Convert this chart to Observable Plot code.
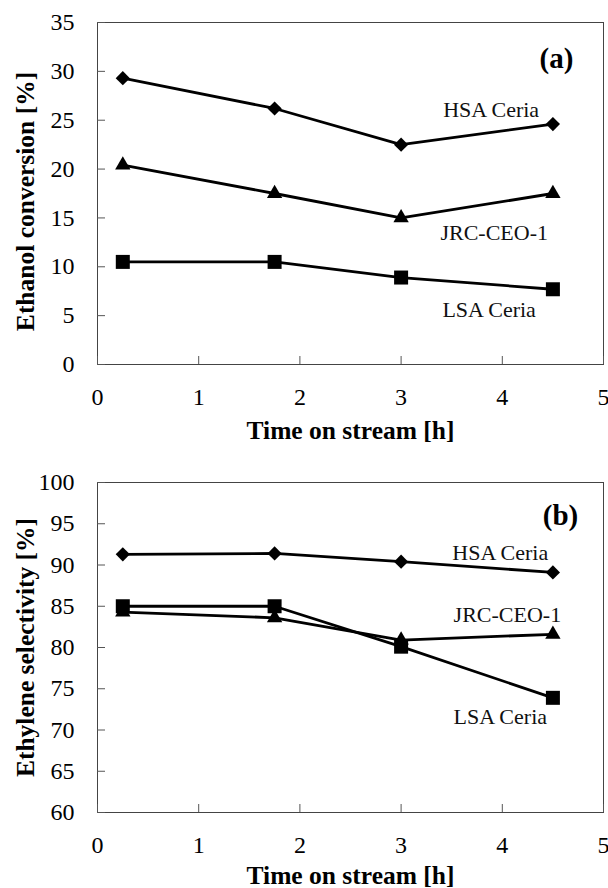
<!DOCTYPE html>
<html><head><meta charset="utf-8">
<script src="https://cdn.jsdelivr.net/npm/d3@7"></script>
<script src="https://cdn.jsdelivr.net/npm/@observablehq/plot@0.6"></script>
<style>
body{margin:0;background:#fff;}
#chart{width:608px;}
#chart svg{display:block;overflow:visible;font-family:"Liberation Serif",serif !important;}
#chart svg text{font-family:"Liberation Serif",serif !important;}
</style></head><body><div id="chart"></div>
<script>
// ---- data ----
const time = [0.25, 1.75, 3, 4.5];
const seriesNames = ["HSA Ceria", "JRC-CEO-1", "LSA Ceria"];
const seriesSymbols = ["diamond2", "triangle", "square"];

// panel (a): ethanol conversion [%]
const convHSA = [29.3, 26.2, 22.5, 24.6];
const convJRC = [20.4, 17.5, 15.0, 17.5];
const convLSA = [10.5, 10.5, 8.9, 7.7];
const convLabelX = [3.89, 3.92, 3.87];
const convLabelY = [26.1, 13.5, 5.6];

// panel (b): ethylene selectivity [%]
const selHSA = [91.3, 91.4, 90.4, 89.1];
const selJRC = [84.3, 83.6, 80.9, 81.6];
const selLSA = [85.0, 85.0, 80.1, 73.9];
const selLabelX = [3.98, 4.05, 3.98];
const selLabelY = [91.4, 84.0, 71.6];

const xTicks = [0, 1, 2, 3, 4, 5];
const yTicksA = [0, 5, 10, 15, 20, 25, 30, 35];
const yTicksB = [60, 65, 70, 75, 80, 85, 90, 95, 100];

function rows(seriesValues) {
  const out = [];
  seriesValues.forEach((vals, s) => vals.forEach((v, i) =>
    out.push({series: seriesNames[s], symbol: seriesSymbols[s], t: time[i], v})));
  return out;
}

const FONT = "'Liberation Serif', 'Times New Roman', serif";
const symbolR = {diamond2: 6.4, triangle: 5.7, square: 7.9};

function panel({values, labelX, labelY, yDomain, yTicks, yTitle, tag, height, marginTop, plotH, tagDx, tagDy, yTitleDy, xTitleDy}) {
  const data = rows(values);
  const labels = seriesNames.map((n, i) => ({n, x: labelX[i], y: labelY[i]}));
  const marks = [
    Plot.frame({stroke: "#444", strokeWidth: 1}),
    Plot.axisX(xTicks, {tickSize: 0, tickPadding: 23, fontSize: 24, fontFamily: FONT, label: null}),
    Plot.axisX(xTicks, {tickSize: -8, fill: "none", label: null, stroke: "#555"}),
    Plot.axisY(yTicks, {tickSize: 0, tickPadding: 23, fontSize: 24, fontFamily: FONT, label: null}),
    Plot.axisY(yTicks, {tickSize: -8, fill: "none", label: null, stroke: "#555"}),
    Plot.line(data, {x: "t", y: "v", z: "series", stroke: "black", strokeWidth: 2.8}),
    ...seriesSymbols.map(sym => Plot.dot(data.filter(d => d.symbol === sym),
      {x: "t", y: "v", symbol: sym, r: symbolR[sym], fill: "black", stroke: "none"})),
    Plot.text(labels, {x: "x", y: "y", text: "n", fontSize: 22, fontFamily: FONT, textAnchor: "middle", fill: "#111"}),
    Plot.text([tag], {frameAnchor: "top-right", dx: tagDx, dy: tagDy, text: d => d, fontSize: 29, fontFamily: FONT, fontWeight: "bold", textAnchor: "middle", lineAnchor: "middle"}),
    Plot.text([yTitle], {frameAnchor: "left", dx: -72, dy: yTitleDy, rotate: -90, text: d => d, fontSize: 25.5, fontFamily: FONT, fontWeight: "bold", textAnchor: "middle", lineAnchor: "middle"}),
    Plot.text(["Time on stream [h]"], {frameAnchor: "bottom", dy: xTitleDy, text: d => d, fontSize: 25.5, fontFamily: FONT, fontWeight: "bold", textAnchor: "middle", lineAnchor: "middle"})
  ];
  return Plot.plot({
    width: 608, height,
    marginLeft: 97, marginRight: 5, marginTop, marginBottom: height - marginTop - plotH,
    style: {fontFamily: FONT, color: "black", background: "white"},
    x: {domain: [0, 5]},
    y: {domain: yDomain},
    marks
  });
}

const chart = document.getElementById("chart");
chart.append(panel({
  values: [convHSA, convJRC, convLSA], labelX: convLabelX, labelY: convLabelY,
  yDomain: [0, 35], yTicks: yTicksA, yTitle: "Ethanol conversion [%]", tag: "(a)",
  height: 440, marginTop: 22, plotH: 342, tagDx: -47, tagDy: 36, yTitleDy: 8, xTitleDy: 66
}));
chart.append(panel({
  values: [selHSA, selJRC, selLSA], labelX: selLabelX, labelY: selLabelY,
  yDomain: [60, 100], yTicks: yTicksB, yTitle: "Ethylene selectivity [%]", tag: "(b)",
  height: 448, marginTop: 42, plotH: 330, tagDx: -43, tagDy: 33, yTitleDy: 0, xTitleDy: 63
}));
</script>
</body></html>
